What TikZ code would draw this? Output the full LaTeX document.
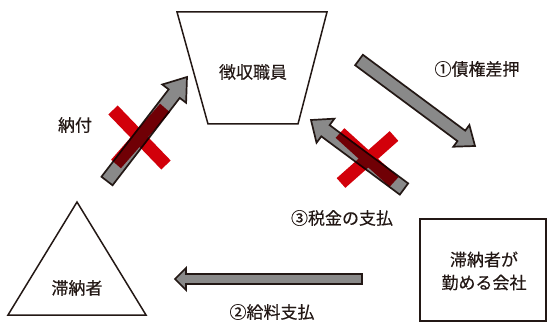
\documentclass[tikz,border=0pt]{standalone}
\usepackage{fontspec}
\setmainfont{Noto Sans CJK JP}[FakeBold=0.4]
\usetikzlibrary{calc}

\definecolor{ink}{RGB}{35,24,21}
\definecolor{arrowgray}{RGB}{137,137,137}
\definecolor{xred}{RGB}{210,0,10}

% tail, tip, half shaft width, half head width, head length
\newcommand{\fatarrow}[5]{%
  \coordinate (#2-h) at ($(#2)!#5!(#1)$);
  \draw[fatarrow] ($(#1)!#3!90:(#2)$) -- ($(#2-h)!#3!90:(#2)$) -- ($(#2-h)!#4!90:(#2)$) -- (#2)
    -- ($(#2-h)!#4!-90:(#2)$) -- ($(#2-h)!#3!-90:(#2)$) -- ($(#1)!#3!-90:(#2)$) -- cycle;
}

\begin{document}
\begin{tikzpicture}[x=1pt, y=-1pt]
    \tikzstyle{txt}=[text=ink, font=\fontsize{17}{23}\selectfont, inner sep=0pt]
    \tikzstyle{outline}=[draw=ink, line width=1.5pt]
    \tikzstyle{fatarrow}=[draw=ink, fill=arrowgray, line width=1.7pt, line join=miter]
    \tikzstyle{cross}=[draw=xred, line width=13pt]
    \useasboundingbox (0,0) rectangle (548,323);

    \draw[outline] (177,12) -- (327,12) -- (298,124) -- (208,124) -- cycle;
    \draw[outline] (77,202) -- (146,315) -- (8,315) -- cycle;
    \draw[outline] (420,219) rectangle (546,321);

    \node[txt] (staff) at (253,72) {徴収職員};
    \node[txt] (debtor) at (77,288) {滞納者};
    \node[txt, align=center] (firm) at (484,271) {滞納者が\\勤める会社};

    \node[txt] (pay) at (75,125) {納付};
    \node[txt] (seize) at (477,69) {①債権差押};
    \node[txt] (tax) at (342,218) {③税金の支払};
    \node[txt] (wage) at (272,312) {②給料支払};

    \coordinate (payS) at (107,181);
    \coordinate (payE) at (187,77);
    \coordinate (seizeS) at (359,60);
    \coordinate (seizeE) at (475,146);
    \coordinate (taxS) at (404,189);
    \coordinate (taxE) at (311,120);
    \coordinate (wageS) at (362,279);
    \coordinate (wageE) at (175,279);

    \fatarrow{payS}{payE}{7pt}{15pt}{21pt}
    \fatarrow{seizeS}{seizeE}{6.5pt}{13.5pt}{17pt}
    \fatarrow{taxS}{taxE}{7pt}{15pt}{18pt}
    \fatarrow{wageS}{wageE}{5pt}{11pt}{11pt}

    \begin{scope}[blend mode=multiply]
      \draw[cross] (113,110) -- (166,165) (116,164) -- (165,108);
      \draw[cross] (341,183) -- (394,136) (340,133) -- (394,182);
    \end{scope}

\end{tikzpicture}
\end{document}
